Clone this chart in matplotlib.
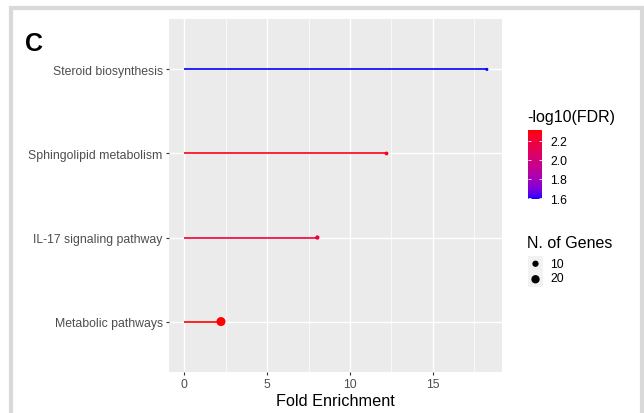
import numpy as np
import matplotlib
matplotlib.use("Agg")
import matplotlib.pyplot as plt
from matplotlib.colors import ListedColormap, Normalize
from matplotlib.patches import Rectangle
from matplotlib.cm import ScalarMappable

# ---------------- data ----------------
pathways = ["Steroid biosynthesis", "Sphingolipid metabolism",
            "IL-17 signaling pathway", "Metabolic pathways"]
fold_enrichment = [18.25, 12.2, 8.03, 2.22]
neg_log10_fdr = [1.59, 2.28, 2.19, 2.31]
n_genes = [2, 3, 4, 24]
size_breaks = [10, 20]
color_breaks = [1.6, 1.8, 2.0, 2.2]

plt.rcParams['font.family'] = ['Liberation Sans', 'DejaVu Sans']

W, H = 644, 414
fig = plt.figure(figsize=(W / 100, H / 100), dpi=100)
fig.patch.set_facecolor('white')


# ---- ggplot-like blue->red gradient interpolated in Lab ----
def srgb_to_lab(rgb):
    rgb = np.asarray(rgb, float)
    lin = np.where(rgb <= 0.04045, rgb / 12.92, ((rgb + 0.055) / 1.055) ** 2.4)
    M = np.array([[0.4124, 0.3576, 0.1805],
                  [0.2126, 0.7152, 0.0722],
                  [0.0193, 0.1192, 0.9505]])
    xyz = M @ lin
    xyz = xyz / np.array([0.95047, 1.0, 1.08883])
    f = np.where(xyz > 0.008856, np.cbrt(xyz), 7.787 * xyz + 16 / 116)
    return np.array([116 * f[1] - 16, 500 * (f[0] - f[1]), 200 * (f[1] - f[2])])


def lab_to_srgb(lab):
    L, a, b = lab
    fy = (L + 16) / 116
    fx = fy + a / 500
    fz = fy - b / 200
    f = np.array([fx, fy, fz])
    xyz = np.where(f ** 3 > 0.008856, f ** 3, (f - 16 / 116) / 7.787)
    xyz = xyz * np.array([0.95047, 1.0, 1.08883])
    Minv = np.array([[3.2406, -1.5372, -0.4986],
                     [-0.9689, 1.8758, 0.0415],
                     [0.0557, -0.2040, 1.0570]])
    lin = Minv @ xyz
    lin = np.clip(lin, 0, 1)
    rgb = np.where(lin <= 0.0031308, 12.92 * lin, 1.055 * lin ** (1 / 2.4) - 0.055)
    return np.clip(rgb, 0, 1)


lab_lo = srgb_to_lab([0, 0, 1])
lab_hi = srgb_to_lab([1, 0, 0])
cols = [lab_to_srgb(lab_lo + t * (lab_hi - lab_lo)) for t in np.linspace(0, 1, 256)]
cmap = ListedColormap(cols)
norm = Normalize(vmin=min(neg_log10_fdr), vmax=max(neg_log10_fdr))


# ---- size mapping (area, like scale_size) ----
gmin, gmax = min(n_genes), max(n_genes)


def gsize(n):
    s = np.sqrt(1 + 35 * (np.asarray(n, float) - gmin) / (gmax - gmin))
    return (0.86 * s + 1.34) ** 2


# ---------------- main panel ----------------
px_l, px_r, px_t, px_b = 169, 502, 20, 373
ax = fig.add_axes([px_l / W, 1 - px_b / H, (px_r - px_l) / W, (px_b - px_t) / H])
ax.set_facecolor('#EBEBEB')
for s in ax.spines.values():
    s.set_visible(False)

ypos = np.arange(len(pathways))[::-1]
colors = [cmap(norm(v)) for v in neg_log10_fdr]

xmax_data = max(fold_enrichment)
pad = 0.05 * xmax_data
ax.set_xlim(-pad, xmax_data + pad)
ax.set_ylim(-0.6, len(pathways) - 1 + 0.6)

ax.set_xticks([0, 5, 10, 15])
ax.set_xticks([2.5, 7.5, 12.5, 17.5], minor=True)
ax.set_yticks(ypos)
ax.set_yticklabels(pathways)
ax.grid(True, which='major', color='white', linewidth=1.0)
ax.grid(True, which='minor', axis='x', color='white', linewidth=0.5)
ax.set_axisbelow(True)
ax.tick_params(which='major', length=2.5, width=0.8, color='#333333',
               labelsize=8.8, labelcolor='#4D4D4D', pad=2)
ax.tick_params(which='minor', length=0)

for y, x, c, n in zip(ypos, fold_enrichment, colors, n_genes):
    ax.plot([0, x], [y, y], color=c, linewidth=1.2, solid_capstyle='butt', zorder=3)
ax.scatter(fold_enrichment, ypos, s=gsize(n_genes), c=colors, zorder=4, linewidths=0)

ax.set_xlabel("Fold Enrichment", fontsize=11.7, labelpad=2)

# ---------------- colour legend ----------------
fig.text(527 / W, 1 - 118 / H, "-log10(FDR)", fontsize=11.5, va='center', ha='left')
cax = fig.add_axes([528 / W, 1 - 200 / H, 14 / W, 69 / H])
sm = ScalarMappable(norm=norm, cmap=cmap)
cb = fig.colorbar(sm, cax=cax)
cb.outline.set_visible(False)
cb.set_ticks(color_breaks)
cb.set_ticklabels([f"{v:.1f}" for v in color_breaks])
cax.yaxis.set_ticks_position('both')
cax.tick_params(direction='in', color='white', length=2.5, width=0.6,
                labelleft=False, labelright=True, labelsize=8.8,
                labelcolor='black', pad=6)

# ---------------- size legend ----------------
fig.text(527 / W, 1 - 243 / H, "N. of Genes", fontsize=11.5, va='center', ha='left')
sax = fig.add_axes([528 / W, 1 - 288 / H, 15 / W, 31 / H])
sax.set_facecolor('#F2F2F2')
for s in sax.spines.values():
    s.set_visible(False)
sax.set_xticks([])
sax.set_yticks([])
sax.set_xlim(0, 1)
sax.set_ylim(0, 2)
sax.scatter([0.5, 0.5], [1.5, 0.5], s=gsize(size_breaks), c='black', linewidths=0)
for yy, lab in zip([265, 279], size_breaks):
    fig.text(550 / W, 1 - yy / H, str(lab), fontsize=8.8, va='center', ha='left')

# ---------------- panel tag and frame ----------------
fig.text(25 / W, 1 - 44 / H, "C", fontsize=18, fontweight='bold', va='center', ha='left')
fig.add_artist(Rectangle((11 / W, -20 / H), (642 - 11) / W, (H + 20 - 9) / H,
                         transform=fig.transFigure, fill=False,
                         edgecolor='#D9D9D9', linewidth=3.0))

fig.savefig("out.png", dpi=100)
